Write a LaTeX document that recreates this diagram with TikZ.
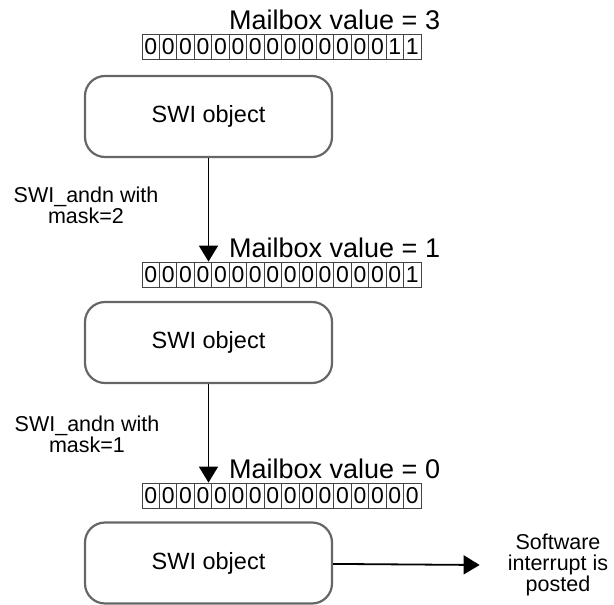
\documentclass[tikz,border=0pt]{standalone}
\usepackage{fontspec}
\setmainfont{Liberation Sans}
\usetikzlibrary{shapes,arrows.meta,positioning}
\definecolor{swigray}{HTML}{666666}
\definecolor{bitgray}{HTML}{444444}
\tikzset{%
	swi/.style    = {draw=swigray, line width=2.2pt, rounded corners=20pt,
		minimum width=247pt, minimum height=81pt, inner sep=0pt,
		font=\fontsize{23.5}{27}\selectfont}, % SWI object
	bit/.style    = {draw=bitgray, line width=0.8pt, minimum width=17.44pt,
		minimum height=25pt, inner sep=0pt, font=\fontsize{23}{27}\selectfont},
	value/.style  = {anchor=base west, inner sep=0pt,
		font=\fontsize{27}{32}\selectfont}, % Mailbox value
	note/.style   = {align=center, inner sep=0pt,
		font=\fontsize{21.5}{21}\selectfont},
	flow/.style   = {line width=1.8pt, -{Triangle[length=16pt,width=19pt]}}
}

\begin{document}
\begin{tikzpicture}[x=1pt,y=-1pt]
			\useasboundingbox (0,0) rectangle (614,605);
			\node[swi] (swi1) at (208.5,116.5) {SWI object} ;
			\node[swi] (swi2) at (208.5,342.5) {SWI object} ;
			\node[swi] (swi3) at (208.5,563) {SWI object} ;
			
			% mailbox bits
			\foreach \r/\t/\n/\v in {1/34/14/3, 2/262/15/1, 3/483/16/0} {
				\node[value] (mb\r) at (229,\t-5) {Mailbox value = \v} ;
				\foreach \k in {1,...,16} {
					\pgfmathtruncatemacro\b{\k>\n}
					\node[bit] (b\r-\k) at ({142+17.44*(\k-0.5)},{\t+12.5}) {\b} ;
				}
			}
			
			\node[note] (andn1) at (86,205) {SWI\_andn with\\mask=2} ;
			\node[note] (andn2) at (87,434) {SWI\_andn with\\mask=1} ;
			\node[note] (done) at (558,565) {Software\\interrupt is\\posted} ;
			
			\draw[flow] (swi1) -- (swi1.south |- b2-1.north);
			\draw[flow] (swi2) -- (swi2.south |- b3-1.north);
			\draw[flow] (swi3) -- ([xshift=-28pt]done.west);
		\end{tikzpicture}
\end{document}
